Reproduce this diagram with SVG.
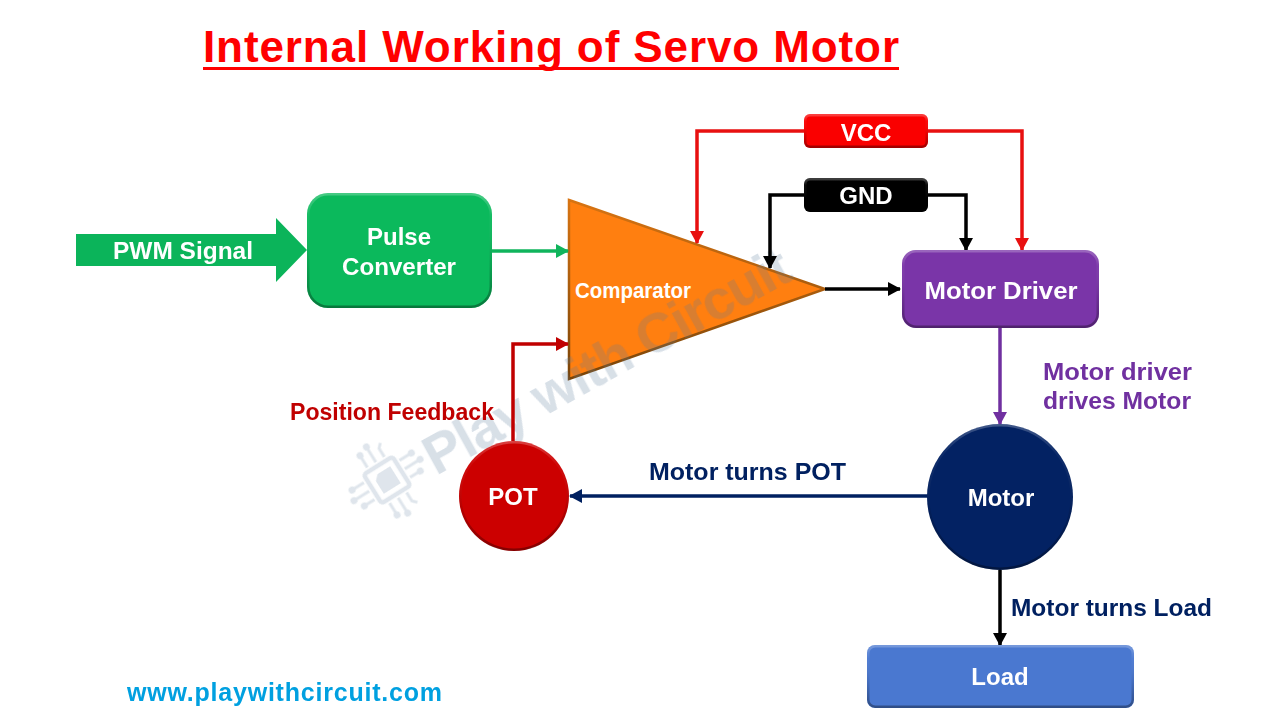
<svg xmlns="http://www.w3.org/2000/svg" width="1280" height="720" viewBox="0 0 1280 720">
<defs>
<linearGradient id="edge" x1="0" y1="0" x2="0" y2="1"><stop offset="0" stop-color="#fff" stop-opacity=".24"/><stop offset=".2" stop-color="#fff" stop-opacity=".04"/><stop offset=".6" stop-color="#000" stop-opacity=".1"/><stop offset="1" stop-color="#000" stop-opacity=".35"/></linearGradient>
<linearGradient id="tri" x1="0" y1="0" x2="0" y2="1"><stop offset="0" stop-color="#d87412"/><stop offset="1" stop-color="#7a4408"/></linearGradient>
<marker id="ag" markerUnits="userSpaceOnUse" markerWidth="13" markerHeight="14" refX="12" refY="7" orient="auto"><path d="M0 0L13 7L0 14Z" fill="#10b45c"/></marker>
<marker id="ak" markerUnits="userSpaceOnUse" markerWidth="13" markerHeight="14" refX="12" refY="7" orient="auto"><path d="M0 0L13 7L0 14Z" fill="#000"/></marker>
<marker id="ar" markerUnits="userSpaceOnUse" markerWidth="13" markerHeight="14" refX="12" refY="7" orient="auto"><path d="M0 0L13 7L0 14Z" fill="#e81010"/></marker>
<marker id="ad" markerUnits="userSpaceOnUse" markerWidth="13" markerHeight="14" refX="12" refY="7" orient="auto"><path d="M0 0L13 7L0 14Z" fill="#c00000"/></marker>
<marker id="ap" markerUnits="userSpaceOnUse" markerWidth="13" markerHeight="14" refX="12" refY="7" orient="auto"><path d="M0 0L13 7L0 14Z" fill="#7030a0"/></marker>
<marker id="an" markerUnits="userSpaceOnUse" markerWidth="13" markerHeight="14" refX="12" refY="7" orient="auto"><path d="M0 0L13 7L0 14Z" fill="#002060"/></marker>
</defs>
<style>
text{font-family:"Liberation Sans","DejaVu Sans",sans-serif;font-weight:700}
.w{fill:#fff;font-size:24px;text-anchor:middle}
.c{fill:none;stroke-width:3.5}
.e{fill:none;stroke:url(#edge);stroke-width:2.5}
.pin{fill:none;stroke:#5b7c9c;stroke-width:3}
.dot{fill:#5b7c9c}
</style>
<rect width="1280" height="720" fill="#fff"/>
<text x="551" y="62" font-size="44" fill="#f00" text-anchor="middle" textLength="696" lengthAdjust="spacing">Internal Working of Servo Motor</text>
<rect x="203" y="67" width="696" height="3" fill="#f00"/>
<g id="comparator"><path d="M569 200L825 289L569 379Z" fill="#ff7f10" stroke="url(#tri)" stroke-width="2.500"/><text class="w" x="633" y="298" style="font-size:22px" textLength="116" lengthAdjust="spacingAndGlyphs">Comparator</text></g>
<g id="watermark" opacity=".24"><text transform="translate(436 476) rotate(-28.800)" font-size="56" fill="#5b7c9c" textLength="410">Play with Circuit</text>
<g transform="translate(387 480) rotate(-32)" opacity=".8"><rect x="-17" y="-17" width="34" height="34" rx="3" fill="none" stroke="#5b7c9c" stroke-width="4.500"/><path d="M-5 -10H10V10H-10V-5Z" fill="#5b7c9c"/>
<path class="pin" d="M-10 -21V-33M0 -21V-37M10 -21V-31L14 -35M-10 21V33M0 21V37M10 21V31L14 35M-21 -10H-33M-21 0H-37M-21 10H-31M21 -10H33M21 0H37M21 10H31"/>
<circle class="dot" cx="-10" cy="-35" r="3.500"/><circle class="dot" cx="0" cy="-39" r="3.500"/><circle class="dot" cx="-10" cy="35" r="3.500"/><circle class="dot" cx="0" cy="39" r="3.500"/><circle class="dot" cx="-35" cy="-10" r="3.500"/><circle class="dot" cx="-39" cy="0" r="3.500"/><circle class="dot" cx="-33" cy="10" r="3.500"/><circle class="dot" cx="35" cy="-10" r="3.500"/><circle class="dot" cx="39" cy="0" r="3.500"/><circle class="dot" cx="33" cy="10" r="3.500"/></g></g>
<g id="connectors">
<path class="c" d="M492 251H568" stroke="#10b45c" marker-end="url(#ag)"/>
<path class="c" d="M805 131H697V243" stroke="#e81010" marker-end="url(#ar)"/>
<path class="c" d="M927 131H1022V250" stroke="#e81010" marker-end="url(#ar)"/>
<path class="c" d="M805 195H770V268" stroke="#000" marker-end="url(#ak)"/>
<path class="c" d="M927 195H966V250" stroke="#000" marker-end="url(#ak)"/>
<path class="c" d="M825 289H900" stroke="#000" marker-end="url(#ak)"/>
<path class="c" d="M513 441V344H568" stroke="#c00000" marker-end="url(#ad)"/>
<path class="c" d="M1000 327V424" stroke="#7030a0" marker-end="url(#ap)"/>
<path class="c" d="M928 496H570" stroke="#002060" marker-end="url(#an)"/>
<path class="c" d="M1000 570V645" stroke="#000" marker-end="url(#ak)"/>
</g>
<g id="pwm"><path d="M76 234H276V218L307 250L276 282V266H76Z" fill="#0bb45a"/><text class="w" x="183" y="259" textLength="140" lengthAdjust="spacingAndGlyphs">PWM Signal</text></g>
<g id="pulse"><rect x="307" y="193" width="185" height="115" rx="21" fill="#0bb95c"/><rect x="308.250" y="194.250" width="182.500" height="112.500" rx="20" class="e"/><text class="w" x="399" y="245">Pulse</text><text class="w" x="399" y="275" textLength="114" lengthAdjust="spacingAndGlyphs">Converter</text></g>
<g id="vcc"><rect x="804" y="114" width="124" height="34" rx="6" fill="#fa0000"/><rect x="805.250" y="115.250" width="121.500" height="31.500" rx="5" class="e"/><text class="w" x="866" y="141">VCC</text></g>
<g id="gnd"><rect x="804" y="178" width="124" height="34" rx="6" fill="#000"/><rect x="805.250" y="179.250" width="121.500" height="31.500" rx="5" class="e"/><text class="w" x="866" y="204">GND</text></g>
<g id="driver"><rect x="902" y="250" width="197" height="78" rx="14" fill="#7a35a8"/><rect x="903.250" y="251.250" width="194.500" height="75.500" rx="13" class="e"/><text class="w" x="1001" y="299" textLength="153" lengthAdjust="spacingAndGlyphs">Motor Driver</text></g>
<g id="pot"><circle cx="514" cy="496" r="55" fill="#cc0000"/><circle cx="514" cy="496" r="53.750" class="e"/><text class="w" x="513" y="505">POT</text></g>
<g id="motor"><circle cx="1000" cy="497" r="73" fill="#032263"/><circle cx="1000" cy="497" r="71.750" class="e"/><text class="w" x="1001" y="506">Motor</text></g>
<g id="load"><rect x="867" y="645" width="267" height="63" rx="8" fill="#4a78d0"/><rect x="868.250" y="646.250" width="264.500" height="60.500" rx="7" class="e"/><text class="w" x="1000" y="685">Load</text></g>
<text x="290" y="420" font-size="24" fill="#c00000" textLength="204" lengthAdjust="spacingAndGlyphs">Position Feedback</text>
<text x="649" y="480" font-size="24" fill="#002060" textLength="197" lengthAdjust="spacingAndGlyphs">Motor turns POT</text>
<text x="1043" y="380" font-size="24" fill="#7030a0" textLength="149" lengthAdjust="spacingAndGlyphs">Motor driver</text>
<text x="1043" y="409" font-size="24" fill="#7030a0" textLength="148" lengthAdjust="spacingAndGlyphs">drives Motor</text>
<text x="1011" y="616" font-size="24" fill="#002060" textLength="201" lengthAdjust="spacingAndGlyphs">Motor turns Load</text>
<text x="127" y="701" font-size="25" fill="#00a0e0" textLength="315" lengthAdjust="spacing">www.playwithcircuit.com</text>
</svg>
